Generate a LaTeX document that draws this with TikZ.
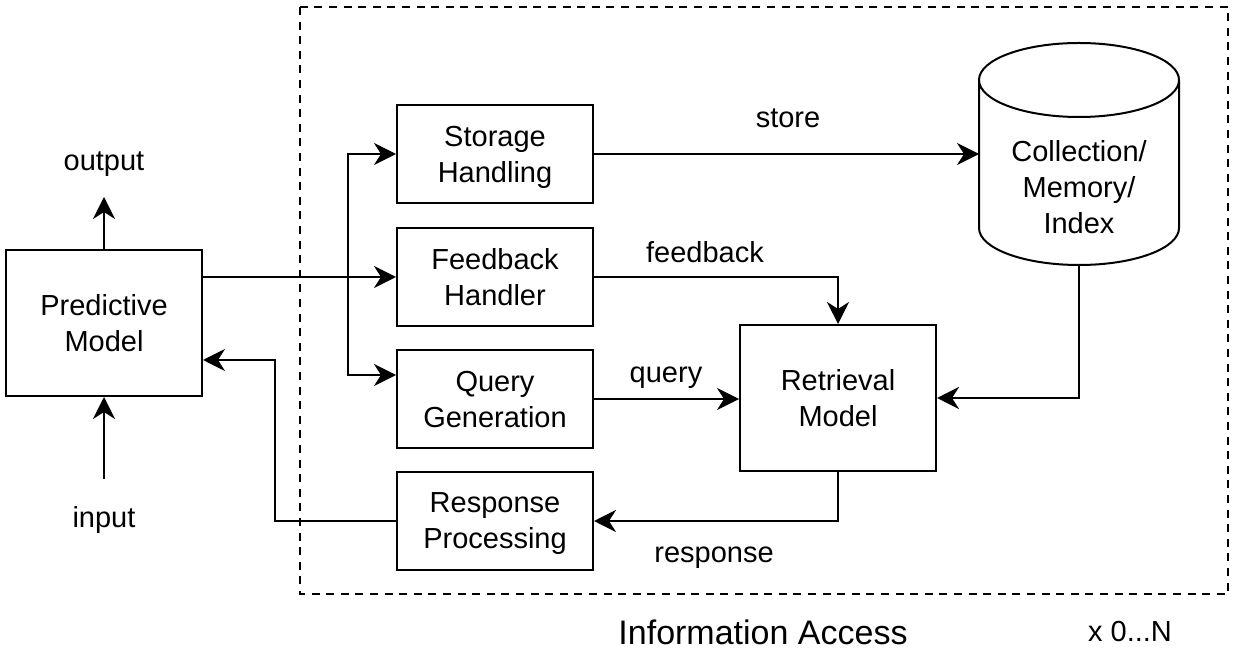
\documentclass[tikz,border=0pt]{standalone}
\usepackage{fontspec}
\setmainfont{Liberation Sans}
\usetikzlibrary{arrows.meta}

\begin{document}
\begin{tikzpicture}[x = 0.5pt, y = -0.5pt, line width = 1pt,
	 >={Stealth[length = 11pt, width = 11pt, inset = 3.5pt]},
	 block/.style = {draw, minimum width = 98pt, minimum height = 49pt, align = center, text depth = 0pt, font = \fontsize{14.5}{18}\selectfont},
	 bigblock/.style = {block, minimum height = 73pt},
	 lbl/.style = {align = center, font = \fontsize{14.5}{18}\selectfont}]
	 \useasboundingbox (0, 0) rectangle (1234, 656);

	 \draw[line width = 1.3pt, dash pattern = on 4pt off 3.3pt] (300, 7) rectangle (1228, 594);

	 \node[bigblock] (pred) at (104, 323) {Predictive\\Model};
	 \node[block] (stor) at (495, 154) {Storage\\Handling};
	 \node[block] (feed) at (495, 277) {Feedback\\Handler};
	 \node[block] (query) at (495, 399) {Query\\Generation};
	 \node[block] (resp) at (495, 521) {Response\\Processing};
	 \node[bigblock] (retr) at (838, 398) {Retrieval\\Model};

	 \node[lbl, minimum width = 100pt, minimum height = 78pt, outer sep = 0pt] (coll) at (1079, 187) {Collection/\\Memory/\\Index};
	 \draw ([yshift = 14.5pt]coll.north west) -- ([yshift = 18.5pt]coll.south west)
	 arc[start angle = 180, end angle = 360, x radius = 50pt, y radius = 18.5pt]
	 -- ([yshift = 14.5pt]coll.north east)
	 arc[start angle = 0, end angle = 360, x radius = 50pt, y radius = 18.5pt];

	 \node[lbl] (outlbl) at (104, 164) {output};
	 \node[lbl] (inlbl) at (104, 520) {input};
	 \coordinate (outtip) at (104, 197);
	 \coordinate (insrc) at (104, 479);
	 \draw[->] (pred.north) -- (outtip);
	 \draw[->] (insrc) -- (pred.south);

	 \coordinate (split) at (348, 277);
	 \draw[->] (pred.east |- feed.west) -- (feed.west);
	 \draw[->] (split) |- (stor.west);
	 \draw[->] (split) |- ([yshift = 12pt]query.west);

	 \coordinate (back) at (275, 521);
	 \draw[->] (resp.west) -- (back) |- ([yshift = -18.5pt]pred.east);

	 \draw[->] (stor.east) -- (stor.east -| coll.west);
	 \node[lbl] (storelbl) at (788, 118) {store};

	 \draw[->] (feed.east) -| (retr.north);
	 \node[lbl] (feedlbl) at (705, 252) {feedback};

	 \draw[->] (query.east) -- (query.east -| retr.west);
	 \node[lbl] (querylbl) at (666, 378) {query};

	 \draw[->] (coll.south) |- (retr.east);

	 \draw[->] (retr.south) |- (resp.east);
	 \node[lbl] (resplbl) at (714, 558) {response};

	 \node[font = \fontsize{17}{20}\selectfont] (title) at (763, 632) {Information Access};
	 \node[lbl] (count) at (1130, 632) {x 0...N};
\end{tikzpicture}
\end{document}
